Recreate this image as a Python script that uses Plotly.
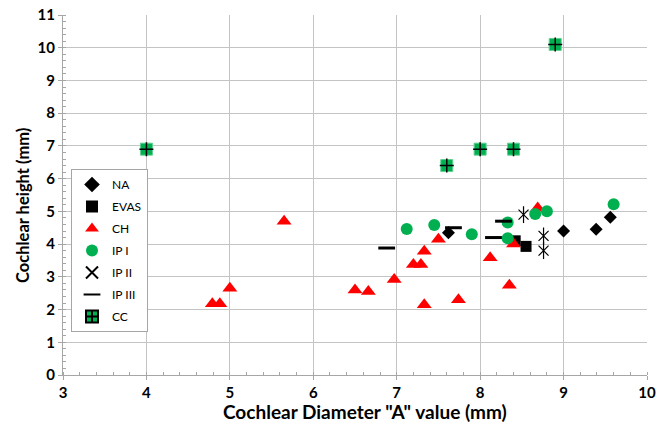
import plotly.graph_objects as go

# Data
na_x = [7.62, 9.0, 9.39, 9.56]
na_y = [4.35, 4.4, 4.45, 4.82]

evas_x = [8.42, 8.55]
evas_y = [4.1, 3.93]

ch_x = [4.79, 4.88, 5.0, 5.65, 6.5, 6.66, 6.97, 7.2, 7.29, 7.33, 7.33, 7.5, 7.74, 8.12, 8.35, 8.4, 8.69]
ch_y = [2.18, 2.18, 2.65, 4.7, 2.6, 2.55, 2.92, 3.38, 3.38, 3.78, 2.15, 4.15, 2.3, 3.58, 2.74, 4.0, 5.1]

ip1_x = [7.12, 7.45, 7.9, 8.33, 8.33, 8.66, 8.8, 9.6]
ip1_y = [4.46, 4.58, 4.3, 4.66, 4.18, 4.92, 5.0, 5.22]

ip2_x = [8.52, 8.76, 8.76]
ip2_y = [4.9, 4.25, 3.8]

ip3_x = [6.88, 7.68, 8.28, 8.16]
ip3_y = [3.88, 4.5, 4.7, 4.2]

cc_x = [4.0, 7.6, 8.0, 8.4, 8.9]
cc_y = [6.9, 6.4, 6.9, 6.9, 10.1]

x_ticks = [3, 4, 5, 6, 7, 8, 9, 10]
y_ticks = list(range(0, 12))

GREEN = "#00B050"
RED = "#FF0000"

fig = go.Figure()

fig.add_trace(go.Scatter(x=na_x, y=na_y, mode="markers", name="NA", legendgroup="na",
                         marker=dict(symbol="diamond", size=10, color="black")))
fig.add_trace(go.Scatter(x=evas_x, y=evas_y, mode="markers", name="EVAS", legendgroup="evas",
                         marker=dict(symbol="square", size=11, color="black")))
fig.add_trace(go.Scatter(x=ch_x, y=ch_y, mode="markers", name="CH", legendgroup="ch",
                         marker=dict(symbol="triangle-up", size=13, color=RED)))
fig.add_trace(go.Scatter(x=ip1_x, y=ip1_y, mode="markers", name="IP I", legendgroup="ip1",
                         marker=dict(symbol="circle", size=12, color=GREEN)))
fig.add_trace(go.Scatter(x=ip2_x, y=ip2_y, mode="markers", name="IP II", legendgroup="ip2",
                         marker=dict(symbol="x-thin-open", size=10, color="black",
                                     line=dict(width=1.2, color="black"))))
fig.add_trace(go.Scatter(x=ip2_x, y=ip2_y, mode="markers", showlegend=False, legendgroup="ip2",
                         marker=dict(symbol="line-ns-open", size=12, color="black",
                                     line=dict(width=1.2, color="black"))))
fig.add_trace(go.Scatter(x=ip3_x, y=ip3_y, mode="markers", name="IP III", legendgroup="ip3",
                         marker=dict(symbol="line-ew-open", size=12, color="black",
                                     line=dict(width=3, color="black"))))
fig.add_trace(go.Scatter(x=cc_x, y=cc_y, mode="markers", showlegend=False, legendgroup="cc",
                         marker=dict(symbol="square", size=12, color=GREEN,
                                     line=dict(width=1, color="#5fd08f"))))
fig.add_trace(go.Scatter(x=cc_x, y=cc_y, mode="markers", showlegend=False, legendgroup="cc",
                         marker=dict(symbol="cross-thin-open", size=10, color="black",
                                     line=dict(width=1.5, color="black"))))
fig.add_trace(go.Scatter(x=[None], y=[None], mode="markers", name="CC", legendgroup="cc",
                         marker=dict(symbol="square-cross", size=10, color=GREEN,
                                     line=dict(width=1, color="black"))))

GRID = "#c4c4c4"
AXIS = "#a6a6a6"
FONT = "Lato"

axis_common = dict(showgrid=True, gridcolor=GRID, gridwidth=1,
                   showline=True, linecolor=AXIS, linewidth=1, zeroline=False,
                   ticks="outside", ticklen=4, tickcolor=AXIS, automargin=False,
                   minor=dict(dtick=0.2, ticks="inside", ticklen=3, tickcolor=AXIS, showgrid=False),
                   tickfont=dict(family=FONT, size=15, color="black", weight="bold"))
fig.update_xaxes(range=[3, 10], tickvals=x_ticks, **axis_common)
fig.update_yaxes(range=[0, 11], tickvals=y_ticks, **axis_common)

fig.add_annotation(text='Cochlear Diameter "A" value (mm)', xref="paper", yref="paper",
                   x=(365 - 63) / 584, y=-(411 - 375) / 360, xanchor="center", yanchor="middle",
                   showarrow=False, font=dict(family=FONT, size=19, color="black", weight="bold"))
fig.add_annotation(text="Cochlear height (mm)", xref="paper", yref="paper",
                   x=-(63 - 23) / 584, y=(375 - 206) / 360, xanchor="center", yanchor="middle",
                   textangle=-90, showarrow=False,
                   font=dict(family=FONT, size=16.5, color="black", weight="bold"))

fig.update_layout(
    width=669, height=422,
    margin=dict(l=63, r=22, t=15, b=47),
    plot_bgcolor="white", paper_bgcolor="white",
    showlegend=True,
    legend=dict(x=(71 - 63) / 584, y=(375 - 169) / 360, xanchor="left", yanchor="top",
                bgcolor="white", bordercolor=AXIS, borderwidth=1,
                font=dict(family=FONT, size=12, color="black"),
                traceorder="grouped", tracegroupgap=3, itemsizing="constant",
                itemwidth=30),
)

fig.write_html("out.html", config={"displayModeBar": False},
               post_script="document.body.style.margin='0px';")
